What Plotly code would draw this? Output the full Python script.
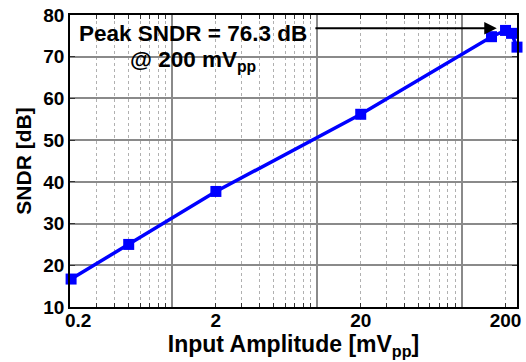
import math
import plotly.graph_objects as go

# ---- data ----
amplitude_mvpp = [0.2, 0.5, 2, 20, 160, 200, 220, 240]
sndr_db = [16.7, 25.0, 37.7, 56.2, 74.8, 76.3, 75.6, 72.3]

x_tick_vals = [0.2, 2, 20, 200]
x_tick_text = ["0.2", "2", "20", "200"]
x_major_grid = [1, 10, 100]
x_minor_grid = [m * d for d in (0.1, 1, 10) for m in range(2, 10) if m * d >= 0.3] + [200]
y_tick_vals = [10, 20, 30, 40, 50, 60, 70, 80]

x_range = [math.log10(0.2) - 0.0075, math.log10(240)]
y_range = [10, 80]

FONT = "Liberation Sans, Arial, Helvetica, sans-serif"
BLUE = "#0000FF"

fig = go.Figure()
fig.add_trace(go.Scatter(
    x=amplitude_mvpp, y=sndr_db, mode="lines+markers",
    line=dict(color=BLUE, width=3.5),
    marker=dict(symbol="square", size=11, color=BLUE),
    cliponaxis=False, showlegend=False, hoverinfo="skip",
))
# invisible traces to carry the labelled overlay axes
for ax in ("x2", "x3"):
    fig.add_trace(go.Scatter(
        x=[x_tick_vals[0]], y=[y_range[0]], xaxis=ax, mode="markers",
        marker=dict(opacity=0), showlegend=False, hoverinfo="skip",
    ))

tickfont = dict(size=19, weight="bold")
fig.update_layout(
    width=526, height=362,
    margin=dict(l=70, r=5, t=15, b=55),
    paper_bgcolor="white", plot_bgcolor="white",
    font=dict(family=FONT, color="black"),
    xaxis=dict(
        type="log", range=x_range,
        tickvals=x_major_grid, showticklabels=False, ticks="",
        showgrid=True, gridcolor="#8a8a8a", gridwidth=1.5,
        showline=True, linecolor="black", linewidth=1.5, mirror="ticks",
        minor=dict(tickvals=x_minor_grid, showgrid=True, gridcolor="#b0b0b0",
                   griddash="dot", gridwidth=1, ticks="inside", ticklen=4,
                   tickcolor="#333333", tickwidth=1),
        zeroline=False,
    ),
    xaxis2=dict(
        type="log", range=x_range, overlaying="x", anchor="y", side="bottom",
        tickvals=x_tick_vals[1:], ticktext=x_tick_text[1:], ticks="",
        showgrid=False, showline=False, zeroline=False,
        tickfont=tickfont,
        title=dict(text="Input Amplitude [mV<sub>pp</sub>]",
                   font=dict(size=23, weight="bold"), standoff=3),
    ),
    xaxis3=dict(
        type="log", range=x_range, overlaying="x", anchor="y", side="bottom",
        tickvals=x_tick_vals[:1], ticktext=x_tick_text[:1], ticks="",
        showgrid=False, showline=False, zeroline=False,
        tickfont=tickfont, ticklabelshift=7,
    ),
    yaxis=dict(
        range=y_range, tickvals=y_tick_vals,
        showgrid=True, gridcolor="#8a8a8a", gridwidth=1.5,
        ticks="inside", ticklen=5, tickcolor="#333333",
        showline=True, linecolor="black", linewidth=1.5, mirror="ticks",
        tickfont=tickfont,
        title=dict(text="SNDR [dB]", font=dict(size=21, weight="bold"), standoff=6),
        zeroline=False,
    ),
)

# arrow pointing at the peak
fig.add_annotation(
    x=math.log10(174), y=76.8, xref="x", yref="y",
    ax=math.log10(9.5), ay=76.8, axref="x", ayref="y",
    text="", showarrow=True, arrowhead=2, arrowsize=1.25, arrowwidth=2,
    arrowcolor="black",
)
fig.add_annotation(
    x=0.275, y=0.935, xref="paper", yref="paper",
    text="Peak SNDR = 76.3 dB", showarrow=False,
    font=dict(size=22.5, weight="bold", color="black"),
    xanchor="center", yanchor="middle",
)
fig.add_annotation(
    x=0.275, y=0.842, xref="paper", yref="paper",
    text="@ 200 mV<sub>pp</sub>", showarrow=False,
    font=dict(size=22.5, weight="bold", color="black"),
    xanchor="center", yanchor="middle",
)

fig.write_html("out.html")
